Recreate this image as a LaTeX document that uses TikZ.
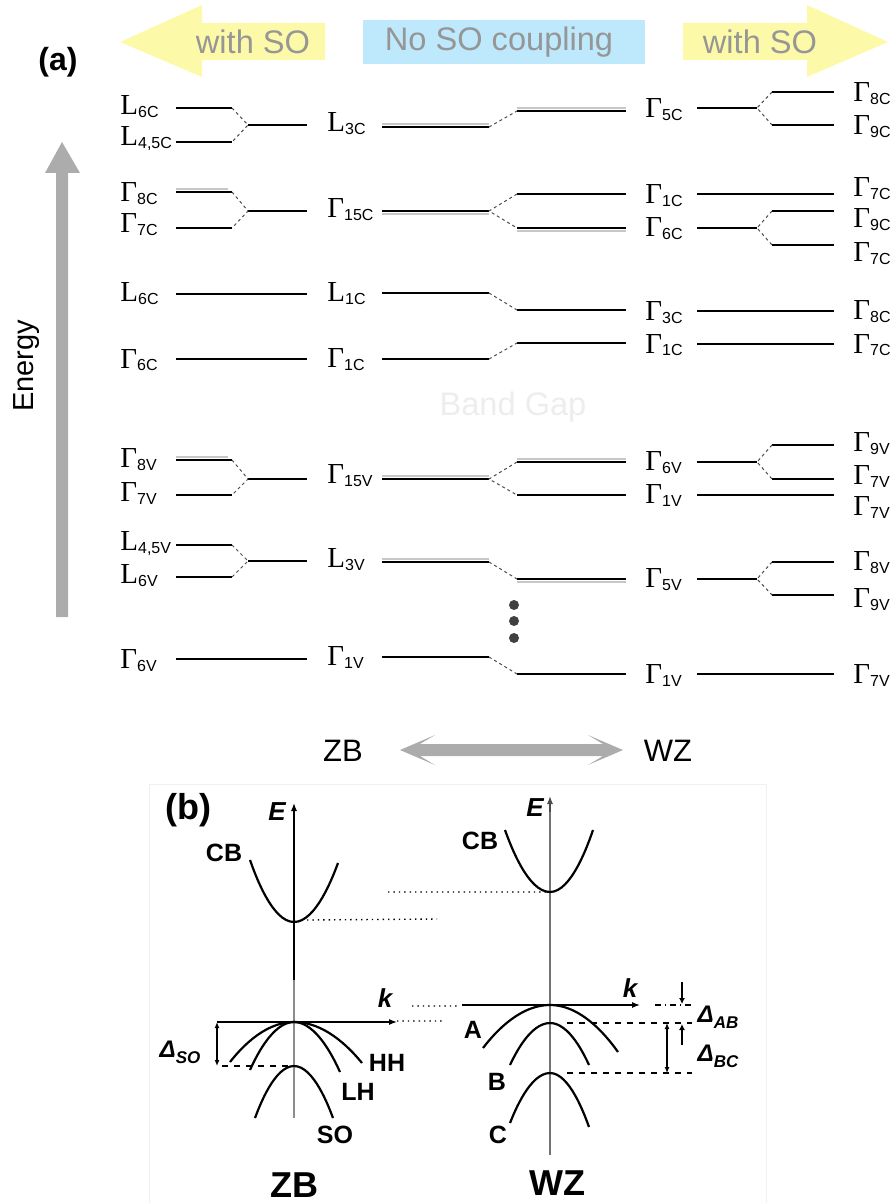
\documentclass[tikz,border=0pt]{standalone}
\usepackage{fontspec}
\setmainfont{Liberation Serif}
\setsansfont{Liberation Sans}
\usetikzlibrary{arrows.meta}
\definecolor{soyellow}{RGB}{252,250,168}
\definecolor{soblue}{RGB}{190,232,252}
\definecolor{sotext}{RGB}{150,150,150}
\definecolor{arrgray}{RGB}{172,172,172}
\newcommand{\sub}[2]{#1\raisebox{-1.5pt}{\fontsize{8}{8}\selectfont\sffamily #2}}
\newcommand{\gm}[1]{\sub{Γ}{#1}}
\newcommand{\lv}[1]{\sub{L}{#1}}
\newcommand{\dl}[2]{#1\raisebox{-3pt}{\fontsize{8.5}{9}\selectfont #2}}

\begin{document}
\begin{tikzpicture}[x=0.5pt,y=-0.5pt,
  lev/.style={line width=0.7pt},
  deg/.style={line width=0.7pt,black!22},
  cnx/.style={dash pattern=on 1.5pt off 1.5pt,line width=0.5pt,black!70},
  lab/.style={anchor=base west,inner sep=0pt,font=\fontsize{14.5}{15}\selectfont},
  tag/.style={font=\sffamily\fontsize{16.3}{17}\selectfont,text=sotext},
  band/.style={line width=1.1pt},
  blab/.style={font=\sffamily\bfseries\fontsize{12.5}{13}\selectfont},
  ilab/.style={font=\sffamily\bfseries\itshape\fontsize{13}{14}\selectfont},
  dlab/.style={font=\sffamily\bfseries\itshape\fontsize{12}{13}\selectfont},
  ax/.style={line width=0.6pt,-{Latex[length=4pt,width=3pt]}},
  dim/.style={line width=0.6pt,{Latex[length=3pt,width=2.5pt]}-{Latex[length=3pt,width=2.5pt]}}]
\useasboundingbox (0,0) rectangle (891,1203);

% (a)
\fill[soyellow] (120,42) -- (202,5) -- (202,23) -- (325,23) -- (325,60) -- (202,60) -- (202,77) -- cycle;
\fill[soblue] (363,20) rectangle (645,64);
\fill[soyellow] (683,23) -- (807,23) -- (807,5) -- (888,42) -- (807,77) -- (807,60) -- (683,60) -- cycle;
\node[tag] (soL) at (253,42) {with SO};
\node[tag] (noso) at (499,42) {No SO coupling};
\node[tag] (soR) at (760,42) {with SO};
\node[font=\sffamily\bfseries\fontsize{16}{17}\selectfont] (pa) at (58,62) {(a)};

\fill[arrgray] (56,617) -- (56,173) -- (45,173) -- (62,142) -- (80,173) -- (68,173) -- (68,617) -- cycle;
\node[rotate=90,font=\sffamily\fontsize{14.5}{15}\selectfont] (en) at (27,366) {Energy};
\node[tag,text=black!7] (gap) at (513,407) {Band Gap};

\foreach \x/\u/\y in {176/228/189,176/228/457,382/489/124,382/489/214,382/489/476,382/489/559,
  517/626/108,517/626/231,517/626/459,517/626/582}
  \draw[deg] (\x,\y) -- (\u,\y);

\foreach \a/\b/\m in {108/142/125,192/228/211,460/495/479,545/577/561}{
  \draw[lev] (176,\a) -- (232,\a) (176,\b) -- (232,\b) (248,\m) -- (307,\m);
  \draw[cnx] (232,\a) -- (248,\m) -- (232,\b);
}
\foreach \y in {294,359,659} \draw[lev] (176,\y) -- (307,\y);

\foreach \y/\w in {127/111,293/310,359/343,562/579,657/674}{
  \draw[lev] (382,\y) -- (489,\y) (517,\w) -- (626,\w);
  \draw[cnx] (489,\y) -- (517,\w);
}
\foreach \y/\a/\b in {211/194/228,479/462/495}{
  \draw[lev] (382,\y) -- (489,\y) (517,\a) -- (626,\a) (517,\b) -- (626,\b);
  \draw[cnx] (517,\a) -- (489,\y) -- (517,\b);
}

\foreach \y/\a/\b in {108/92/125,228/211/245,462/445/479,579/562/595}{
  \draw[lev] (697,\y) -- (757,\y) (772,\a) -- (834,\a) (772,\b) -- (834,\b);
  \draw[cnx] (772,\a) -- (757,\y) -- (772,\b);
}
\foreach \y in {194,311,344,495,674} \draw[lev] (697,\y) -- (834,\y);

\foreach \y in {605,621,638} \fill[black!75] (514,\y) circle (2.5pt);

\foreach \y/\t [count=\i] in {115/{\lv{6C}},146/{\lv{4,5C}},202/{\gm{8C}},233/{\gm{7C}},
  302/{\lv{6C}},368/{\gm{6C}},467/{\gm{8V}},501/{\gm{7V}},550/{\lv{4,5V}},583/{\lv{6V}},668/{\gm{6V}}}
  \node[lab] (zso\i) at (120,\y) {\t};
\foreach \y/\t [count=\i] in {132/{\lv{3C}},218/{\gm{15C}},302/{\lv{1C}},367/{\gm{1C}},
  483/{\gm{15V}},567/{\lv{3V}},665/{\gm{1V}}}
  \node[lab] (zb\i) at (327,\y) {\t};
\foreach \y/\t [count=\i] in {118/{5C},204/{1C},237/{6C},321/{3C},353/{1C},470/{6V},503/{1V},587/{5V},683/{1V}}
  \node[lab] (wz\i) at (645,\y) {\gm{\t}};
\foreach \y/\t [count=\i] in {102/{8C},135/{9C},197/{7C},228/{9C},262/{7C},320/{8C},353/{7C},
  451/{9V},484/{7V},515/{7V},570/{8V},607/{9V},683/{7V}}
  \node[lab] (wso\i) at (853,\y) {\gm{\t}};

\fill[arrgray] (400,750) -- (435,735) -- (420,744) -- (603,744) -- (588,735) -- (623,750)
  -- (588,765) -- (603,756) -- (420,756) -- (435,765) -- cycle;
\node[font=\sffamily\fontsize{15.5}{16}\selectfont] (zbA) at (343,751) {ZB};
\node[font=\sffamily\fontsize{15.5}{16}\selectfont] (wzA) at (668,751) {WZ};

% (b)
\draw[black!6] (149,784) rectangle (766,1210);
\node[font=\sffamily\bfseries\fontsize{18}{19}\selectfont] (pb) at (188,810) {(b)};

\coordinate (zG) at (294,1022);
\coordinate (wG) at (550,1005);
\draw[ax] (294,980) -- (294,803);
\draw[line width=0.6pt,black!45] (294,1118) -- (294,980);
\draw[ax] (217,1022) -- (397,1022);
\draw[line width=0.7pt,black!55] (550,1155) -- (550,810);
\draw[ax,black!70] (550,812) -- (550,796);
\draw[ax] (462,1005) -- (640,1005);

\draw[band] (250,860) parabola bend (294,922) (338,863);
\draw[band] (230,1062) parabola bend (zG) (362,1063);
\draw[band] (250,1070) parabola bend (zG) (340,1072);
\draw[band] (255,1118) parabola bend (294,1066) (333,1118);
\draw[band] (505,830) parabola bend (550,892) (593,830);
\draw[band] (483,1048) parabola bend (wG) (618,1052);
\draw[band] (510,1065) parabola bend (550,1023) (589,1065);
\draw[band] (510,1123) parabola bend (550,1073) (589,1127);

\draw[dotted,line width=0.7pt] (307,920) -- (437,919) (388,892) -- (550,892)
  (397,1021) -- (445,1021) (412,1006) -- (457,1006);
\draw[dashed,line width=0.9pt] (222,1066) -- (290,1066) (567,1023) -- (692,1023) (567,1073) -- (692,1073);
\draw[dash dot,line width=0.9pt] (655,1005) -- (692,1005);
\draw[dim] (217,1022) -- (217,1066);
\draw[dim] (667,1023) -- (667,1073);
\draw[line width=0.6pt,-{Latex[length=3pt,width=3pt]}] (682,982) -- (682,1004);
\draw[line width=0.6pt,-{Latex[length=3pt,width=3pt]}] (682,1045) -- (682,1024);

\node[ilab] (eZ) at (277,812) {E};
\node[ilab] (eW) at (535,808) {E};
\node[ilab] (kZ) at (385,998) {k};
\node[ilab] (kW) at (630,988) {k};
\node[blab] (cbZ) at (224,853) {CB};
\node[blab] (cbW) at (480,841) {CB};
\node[blab] (hh) at (387,1063) {HH};
\node[blab] (lh) at (358,1092) {LH};
\node[blab] (so) at (335,1135) {SO};
\node[blab] (bA) at (473,1030) {A};
\node[blab] (bB) at (497,1082) {B};
\node[blab] (bC) at (498,1135) {C};
\node[dlab] (dso) at (180,1052) {\dl{Δ}{SO}};
\node[dlab] (dab) at (718,1017) {\dl{Δ}{AB}};
\node[dlab] (dbc) at (718,1056) {\dl{Δ}{BC}};
\node[font=\sffamily\bfseries\fontsize{18}{19}\selectfont] (zbB) at (294,1185) {ZB};
\node[font=\sffamily\bfseries\fontsize{18}{19}\selectfont] (wzB) at (557,1183) {WZ};
\end{tikzpicture}
\end{document}
